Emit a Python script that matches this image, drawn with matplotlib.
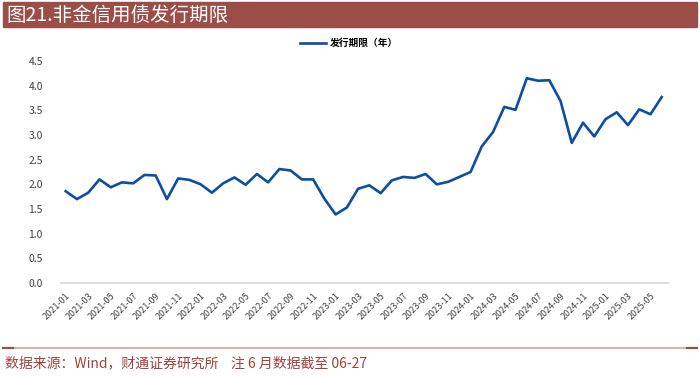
import matplotlib
matplotlib.use('Agg')
import matplotlib.pyplot as plt
from matplotlib.patches import Rectangle
from matplotlib.lines import Line2D

plt.rcParams['font.family'] = ['Noto Sans CJK SC', 'DejaVu Sans']

months = [f'{y}-{m:02d}' for y in range(2021, 2026) for m in range(1, 13)][:54]
tenor = [1.86, 1.70, 1.83, 2.10, 1.94, 2.04, 2.02, 2.19, 2.18, 1.70,
         2.12, 2.09, 2.00, 1.83, 2.02, 2.14, 1.99, 2.21, 2.04, 2.31,
         2.28, 2.10, 2.10, 1.71, 1.39, 1.53, 1.91, 1.98, 1.82, 2.08,
         2.15, 2.13, 2.21, 2.00, 2.05, 2.15, 2.25, 2.77, 3.06, 3.57,
         3.51, 4.15, 4.10, 4.11, 3.69, 2.84, 3.25, 2.97, 3.32, 3.46,
         3.20, 3.52, 3.42, 3.77]
yticks = [0.0, 0.5, 1.0, 1.5, 2.0, 2.5, 3.0, 3.5, 4.0, 4.5]

title_color = '#9B4D48'
line_color = '#0B4EA2'

fig = plt.figure(figsize=(7, 3.76), dpi=100)

# title bar
fig.patches.append(Rectangle((3/700, 1-27/376), 694/700, 25/376,
                             transform=fig.transFigure, color=title_color, zorder=0))
fig.text(6/700, 1-15/376, '图21.非金信用债发行期限', color='white', fontsize=14,
         va='center', ha='left')

ax = fig.add_axes([61/700, 1-283/376, (667.7-61)/700, (283-61)/376])
x = list(range(len(tenor)))
ax.plot(x, tenor, color=line_color, lw=1.9, label='发行期限（年）')
ax.set_xlim(-0.42, 53.53)
ax.set_ylim(0, 4.5)
ax.set_yticks(yticks)
ax.set_yticklabels([f'{v:.1f}' for v in yticks])
ax.set_xticks(x[::2])
ax.set_xticklabels(months[::2], rotation=45, ha='right', rotation_mode='anchor')
ax.tick_params(axis='both', length=0, colors='#404040', labelsize=7.5)
ax.tick_params(axis='x', labelsize=6.5, pad=6)
ax.tick_params(axis='y', pad=13)
for s in ['top', 'right', 'left']:
    ax.spines[s].set_visible(False)
ax.spines['bottom'].set_color('#d9d9d9')
ax.spines['bottom'].set_linewidth(1.2)

leg = ax.legend(loc='center', bbox_to_anchor=((349-61)/(667.7-61), (283-43)/(283-61)),
                frameon=False, fontsize=7, handlelength=2.6, handletextpad=0.4)
for t in leg.get_texts():
    t.set_fontweight('bold')

# footer line
fig.add_artist(Line2D([3/700, 697/700], [1-347.5/376]*2, transform=fig.transFigure,
                      color='#D9A09A', lw=1.2))
fig.add_artist(Line2D([3/700, 13/700], [1-347.5/376]*2, transform=fig.transFigure,
                      color=title_color, lw=1.6))
fig.add_artist(Line2D([687/700, 697/700], [1-347.5/376]*2, transform=fig.transFigure,
                      color=title_color, lw=1.6))
fig.text(5/700, 1-363/376, '数据来源：Wind，财通证券研究所    注 6 月数据截至 06-27',
         color='#A0413C', fontsize=10, va='center', ha='left')

fig.savefig('out.png', dpi=100)
